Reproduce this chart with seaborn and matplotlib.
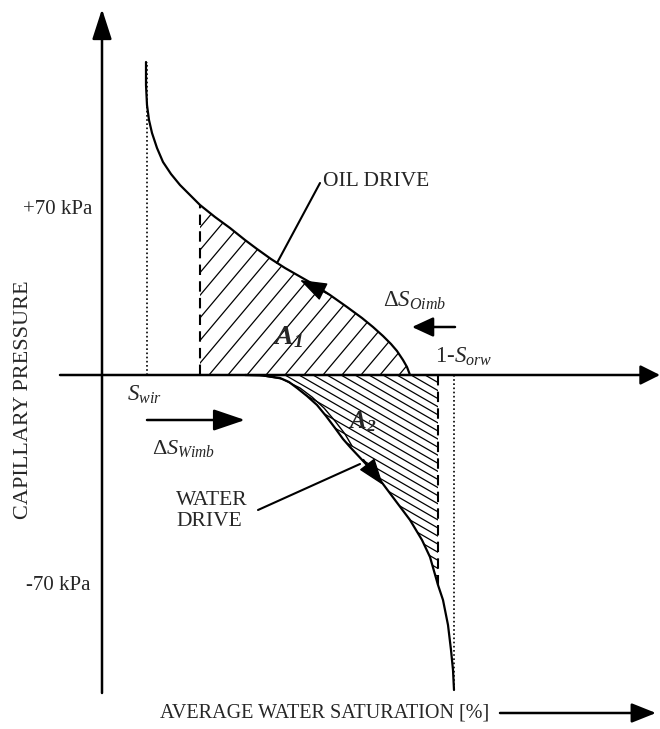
import numpy as np
import matplotlib
matplotlib.use("Agg")
import matplotlib.pyplot as plt
from matplotlib.patches import Polygon
import seaborn as sns

sns.set_theme(style="white")
plt.rcParams['font.family'] = ['Liberation Serif', 'DejaVu Serif']
plt.rcParams['mathtext.fontset'] = 'custom'
plt.rcParams['mathtext.rm'] = 'Liberation Serif'
plt.rcParams['mathtext.it'] = 'Liberation Serif:italic'
plt.rcParams['mathtext.bf'] = 'Liberation Serif:bold'
plt.rcParams['mathtext.bfit'] = 'Liberation Serif:bold:italic'

# --- data (saturation in %, capillary pressure in kPa, schematic) ---
# oil drive curve (upper branch)
oil_sw = [8.8, 8.8, 9.0, 9.4, 10.0, 11.0, 12.2, 13.8, 15.6, 17.6, 19.6, 22.6, 25.6,
          28.6, 31.0, 33.8, 36.6, 39.4, 42.2, 45.6, 49.0, 52.0, 54.2, 56.2, 57.8,
          59.0, 60.2, 61.0, 61.6]
oil_pc = [125.2, 116, 108, 102, 96.8, 90.8, 85.2, 80.4, 76, 72, 68, 63.2, 58.8,
          54, 50.4, 46.4, 42.8, 39.6, 36.4, 32, 27.2, 22.8, 19.2, 15.6, 12.4,
          9.6, 6, 3.2, 0]
# water drive curve (lower branch)
water_sw = [28.6, 32.2, 35.6, 37.4, 39.0, 41.0, 43.0, 44.8, 46.6, 48.2, 49.6, 52.6,
            55.6, 58.6, 61.6, 64.0, 65.6, 67.2, 68.2, 69.2, 69.8, 70.2, 70.4]
water_pc = [0, -0.2, -1.2, -2.8, -5.2, -8.4, -12, -16.4, -21.2, -25.6, -28.8, -35.2,
            -42, -50, -58, -66, -72.8, -84, -90, -100, -110, -118, -126]
# second trace of the water drive curve near its start
water2_sw = [31.2, 36.0, 39.6, 42.0, 44.4, 46.6, 48.6, 50.0]
water2_pc = [0, -1.6, -5.2, -8.8, -13.2, -18.4, -23.6, -28.4]

swir = 9.0          # dotted, irreducible water
sw_oil_start = 19.6  # dashed, start of A1
sw_water_end = 67.2  # dashed, end of A2
sorw_line = 70.4    # dotted, 1-Sorw
pc_swir_top = 125.2
pc_a1_top = 68
pc_a2_bottom = -84
pc_bottom = -126

fig = plt.figure(figsize=(6.6, 7.29), dpi=100)
ax = fig.add_axes([0, 0, 1, 1])
ax.set_xlim(-20.4, 111.6)
ax.set_ylim(-141.6, 150)
ax.axis('off')


def arrow(tip, tail, hl, hw, lw=1.8):
    ax.annotate('', xy=tip, xytext=tail,
                arrowprops=dict(arrowstyle=f'-|>,head_length={hl},head_width={hw}',
                                mutation_scale=20, color='black', lw=lw,
                                shrinkA=0, shrinkB=0))


# axes with arrows
arrow((111.6, 0), (-8.4, 0), 0.6, 0.3)
arrow((0, 146.4), (0, -127.2), 0.93, 0.3)

# reference lines
ax.plot([swir, swir], [0, pc_swir_top], color='black', lw=1.2, ls=(0, (1, 1.5)))
ax.plot([sorw_line, sorw_line], [0, pc_bottom], color='black', lw=1.2, ls=(0, (1, 1.5)))
ax.plot([sw_oil_start, sw_oil_start], [0, pc_a1_top], color='black', lw=1.5, ls=(0, (5, 3)))
ax.plot([sw_water_end, sw_water_end], [0, pc_a2_bottom], color='black', lw=1.5, ls=(0, (5, 3)))

# curves
sns.lineplot(x=oil_sw, y=oil_pc, sort=False, estimator=None, color='black', lw=1.6, ax=ax)
sns.lineplot(x=water_sw, y=water_pc, sort=False, estimator=None, color='black', lw=1.6, ax=ax)
sns.lineplot(x=water2_sw, y=water2_pc, sort=False, estimator=None, color='black', lw=1.0, ax=ax)

# hatched areas A1 and A2
osw = np.array(oil_sw)
opc = np.array(oil_pc)
keep = osw > sw_oil_start
a1_verts = [(sw_oil_start, 0), (sw_oil_start, pc_a1_top)] + list(zip(osw[keep], opc[keep]))
a1_poly = Polygon(a1_verts, closed=True, fill=False, lw=0)
ax.add_patch(a1_poly)

wsw = np.array(water_sw)
wpc = np.array(water_pc)
keep = wsw <= sw_water_end
a2_verts = list(zip(wsw[keep], wpc[keep])) + [(sw_water_end, 0)]
a2_poly = Polygon(a2_verts, closed=True, fill=False, lw=0)
ax.add_patch(a2_poly)

xs = np.array([-30.0, 120.0])
slope1 = 2.38    # "/" hatch
for c in np.arange(-9.0, 62.0, 3.8):
    ln, = ax.plot(xs, slope1 * (xs - c), color='black', lw=0.9)
    ln.set_clip_path(a1_poly)
slope2 = -1.155  # "\" hatch
for c in np.arange(-5.4, 67.0, 2.8):
    ln, = ax.plot(xs, slope2 * (xs - c), color='black', lw=0.9)
    ln.set_clip_path(a2_poly)

# direction arrowheads on the curves
arrow((39.6, 38), (45.4, 32.2), 0.85, 0.3, lw=1.0)
arrow((56.2, -44), (52.3, -33.8), 0.85, 0.3, lw=1.0)

# horizontal arrows
arrow((62.0, 19.2), (70.6, 19.2), 0.65, 0.3)
arrow((28.6, -18), (9.0, -18), 0.97, 0.33)
arrow((110.8, -135.2), (79.6, -135.2), 0.75, 0.3)

# leader lines
ax.plot([43.6, 35.0], [76.8, 44.8], color='black', lw=1.5)
ax.plot([31.2, 51.6], [-54, -35.6], color='black', lw=1.5)

# text
fs = 15
ax.text(-2.0, 66, '+70 kPa', ha='right', va='center', fontsize=fs)
ax.text(-2.4, -84, '-70 kPa', ha='right', va='center', fontsize=fs)
ax.text(44.2, 77.2, 'OIL DRIVE', ha='left', va='center', fontsize=15.5)
ax.text(56.2, 29.6, 'Δ$S_{Oimb}$', ha='left', va='center', fontsize=16.5)
ax.text(66.6, 7.2, '1-$S_{orw}$', ha='left', va='center', fontsize=16.5)
ax.text(5.0, -8, '$S_{wir}$', ha='left', va='center', fontsize=16.5)
ax.text(10.0, -29.2, 'Δ$S_{Wimb}$', ha='left', va='center', fontsize=16)
ax.text(14.8, -54.4, 'WATER\nDRIVE', ha='left', va='center', fontsize=15.5, linespacing=1.2)
ax.text(34.2, 15.2, r'$\mathbfit{A_1}$', ha='left', va='center', fontsize=20)
ax.text(49.2, -18.8, r'$\mathbfit{A_2}$', ha='left', va='center', fontsize=18)
ax.text(-15.6, -10, 'CAPILLARY PRESSURE', rotation=90, ha='center', va='center', fontsize=16)
ax.text(11.6, -135.2, 'AVERAGE WATER SATURATION [%]', ha='left', va='center', fontsize=14.5)

plt.savefig('out.png', dpi=100)
